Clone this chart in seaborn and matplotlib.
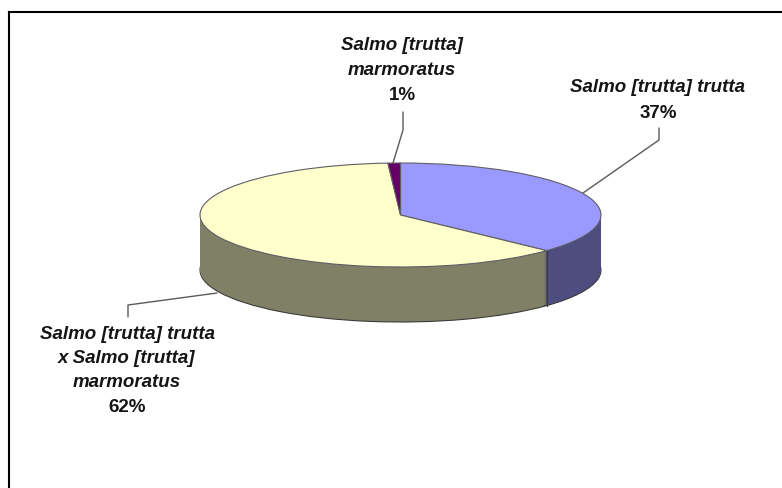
import matplotlib
matplotlib.use("Agg")
import matplotlib.pyplot as plt
import numpy as np
import seaborn as sns

# pie values, clockwise from 12 o'clock
species = ['Salmo [trutta] trutta', 'Salmo [trutta] trutta\nx Salmo [trutta]\nmarmoratus', 'Salmo [trutta]\nmarmoratus']
shares = [37, 62, 1]
top_colors = ['#9999ff', '#ffffcc', '#660066']
side_colors = ['#4d4d80', '#808066', '#330033']

sns.set_theme(style='white')
plt.rcParams['font.family'] = ['Liberation Sans', 'DejaVu Sans']

W, H = 782, 488
fig = plt.figure(figsize=(W / 100, H / 100), dpi=100)
ax = fig.add_axes([0, 0, 1, 1])

cx, cy = 400.5, 215
rx, ry = 200.5, 52
depth = 55


def pie_at(y, colors, edge, z):
    # squash a circular pie into the tilted ellipse
    wedges, _ = ax.pie(shares, colors=colors, startangle=90, counterclock=False,
                       center=(cx, 0), radius=rx, frame=True,
                       wedgeprops=dict(edgecolor=edge, linewidth=0.8, zorder=z))
    tr = matplotlib.transforms.Affine2D().translate(-cx, 0).scale(1, -ry / rx).translate(cx, y) + ax.transData
    for w in wedges:
        w.set_transform(tr)
    return wedges


# side wall: stacked copies of the pie
pie_at(cy + depth, side_colors, '#3a3a3a', 2)
for d in range(depth - 1, 0, -1):
    pie_at(cy + d, side_colors, 'none', 3)
pie_at(cy, top_colors, '#5f5f66', 4)
ax.set_xlim(0, W)
ax.set_ylim(H, 0)
ax.set_aspect('auto')
ax.set_axis_off()

# seam on the wall where the first slice ends
a = 2 * np.pi * shares[0] / sum(shares)
seam_x = cx + rx * np.sin(a)
seam_y = cy - ry * np.cos(a)
ax.plot([seam_x, seam_x], [seam_y, seam_y + depth], color='#3a3a3a', lw=0.9, zorder=3.5)

# frame only on the left and top
ax.plot([9, 9], [H, 12], color='black', lw=1.5, solid_capstyle='projecting', zorder=6)
ax.plot([9, W], [12, 12], color='black', lw=1.5, solid_capstyle='projecting', zorder=6)

# leader lines
grey = '#5a5a5a'
ax.plot([403, 403, 393], [112, 130, 163], color=grey, lw=1, zorder=1)
ax.plot([659, 659, 583], [128, 140, 193], color=grey, lw=1, zorder=1)
ax.plot([128, 128, 217], [317, 305, 293], color=grey, lw=1, zorder=1)

# labels, the names are italic and the shares upright
txt = dict(ha='center', va='center', fontsize=13.5, fontweight='bold', color='#151515', linespacing=1.54)
ax.text(402, 58, species[2], style='italic', **txt)
ax.text(402, 95, f'{shares[2]}%', **txt)
ax.text(658, 88, species[0], style='italic', **txt)
ax.text(658, 113, f'{shares[0]}%', **txt)
ax.text(127, 358.5, species[1], style='italic', **txt)
ax.text(127, 408, f'{shares[1]}%', **txt)

fig.savefig('out.png', dpi=100, facecolor='white')
